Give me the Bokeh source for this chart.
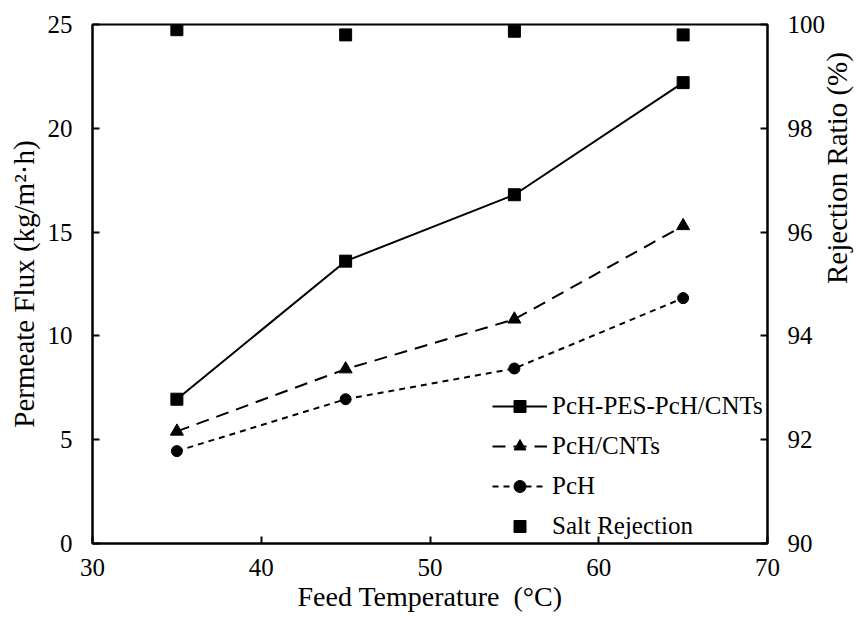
import math
from bokeh.plotting import figure
from bokeh.models import Range1d, LinearAxis, LogScale, Legend, LegendItem, FixedTicker
from bokeh.embed import file_html
from bokeh.resources import INLINE

# ---- data ----
temperature = [35, 45, 55, 65]
flux_hybrid = [6.95, 13.6, 16.8, 22.2]        # PcH-PES-PcH/CNTs
flux_pch_cnts = [5.4, 8.4, 10.8, 15.3]        # PcH/CNTs
flux_pch = [4.45, 6.95, 8.43, 11.82]          # PcH
salt_rejection = [99.90, 99.80, 99.87, 99.80] # %

x_ticks = [30, 40, 50, 60, 70]
y_ticks = [0, 5, 10, 15, 20, 25]
y2_ticks = [90, 92, 94, 96, 98, 100]

FONT = "Liberation Serif"

p = figure(frame_width=675, frame_height=519, output_backend="svg", toolbar_location=None,
           x_range=Range1d(30, 70), y_range=Range1d(0, 25),
           min_border_left=92, min_border_right=100, min_border_top=24, min_border_bottom=80)
p.extra_y_ranges = {"rej": Range1d(90, 100), "ttl": Range1d(40, 1)}
p.extra_y_scales = {"ttl": LogScale()}
p.grid.visible = False
p.outline_line_color = "black"
p.outline_line_width = 2
p.background_fill_color = "white"
p.border_fill_color = "white"

right_axis = LinearAxis(y_range_name="rej")
p.add_layout(right_axis, "right")

p.xaxis.ticker = FixedTicker(ticks=x_ticks)
p.yaxis[0].ticker = FixedTicker(ticks=y_ticks)
right_axis.ticker = FixedTicker(ticks=y2_ticks)

for ax in [p.xaxis[0], p.yaxis[0], right_axis]:
    ax.axis_line_color = "black"
    ax.axis_line_width = 2
    ax.major_tick_in = 7
    ax.major_tick_out = 0
    ax.major_tick_line_width = 2
    ax.minor_tick_line_color = None
    ax.major_label_text_font = FONT
    ax.major_label_text_font_size = "25px"
    ax.major_label_text_color = "black"
    ax.axis_label_text_font = FONT
    ax.axis_label_text_font_style = "normal"
    ax.axis_label_text_color = "black"

p.xaxis.axis_label = "Feed Temperature\u00a0 (°C)"
p.xaxis.axis_label_text_font_size = "28px"
p.xaxis.major_label_standoff = 15
p.xaxis.axis_label_standoff = 2

p.yaxis[0].axis_label = "Permeate Flux (kg/m²·h)"
p.yaxis[0].axis_label_text_font_size = "29px"
p.yaxis[0].major_label_standoff = 20
p.yaxis[0].axis_label_standoff = 5

right_axis.major_label_standoff = 20

# label-only axis for the right-hand title (reads bottom to top, like the reference)
title_axis = LinearAxis(y_range_name="ttl", ticker=FixedTicker(ticks=[]))
title_axis.axis_line_color = None
title_axis.major_tick_line_color = None
title_axis.minor_tick_line_color = None
title_axis.major_label_text_font_size = "0px"
title_axis.major_label_standoff = 0
title_axis.axis_label = "Rejection Ratio (%)"
title_axis.axis_label_text_font = FONT
title_axis.axis_label_text_font_style = "normal"
title_axis.axis_label_text_font_size = "29px"
title_axis.axis_label_text_color = "black"
title_axis.axis_label_standoff = 8
try:
    title_axis.axis_label_orientation = math.pi / 2
except Exception:
    pass
p.add_layout(title_axis, "right")

# ---- series ----
l1 = p.line(temperature, flux_hybrid, line_color="black", line_width=2)
s1 = p.scatter(temperature, flux_hybrid, marker="square", size=12, color="black")

l2 = p.line(temperature, flux_pch_cnts, line_color="black", line_width=2, line_dash="13 8")
s2 = p.scatter(temperature, flux_pch_cnts, marker="triangle", size=13, color="black")

l3 = p.line(temperature, flux_pch, line_color="black", line_width=2, line_dash="6 5")
s3 = p.scatter(temperature, flux_pch, marker="circle", size=11, color="black")

s4 = p.scatter(temperature, salt_rejection, marker="square", size=12, color="black",
               y_range_name="rej")

legend = Legend(items=[
    LegendItem(label="PcH-PES-PcH/CNTs", renderers=[l1, s1]),
    LegendItem(label="PcH/CNTs", renderers=[l2, s2]),
    LegendItem(label="PcH", renderers=[l3, s3]),
    LegendItem(label="Salt Rejection", renderers=[s4]),
], location=(400, 2))
legend.label_text_font = FONT
legend.label_text_font_size = "25px"
legend.label_text_color = "black"
legend.glyph_width = 55
legend.glyph_height = 30
legend.label_height = 30
legend.spacing = 10
legend.padding = 0
legend.margin = 0
legend.label_standoff = 5
legend.border_line_alpha = 0
legend.background_fill_alpha = 0
p.add_layout(legend)

open("out.html", "w").write(file_html(p, INLINE))
